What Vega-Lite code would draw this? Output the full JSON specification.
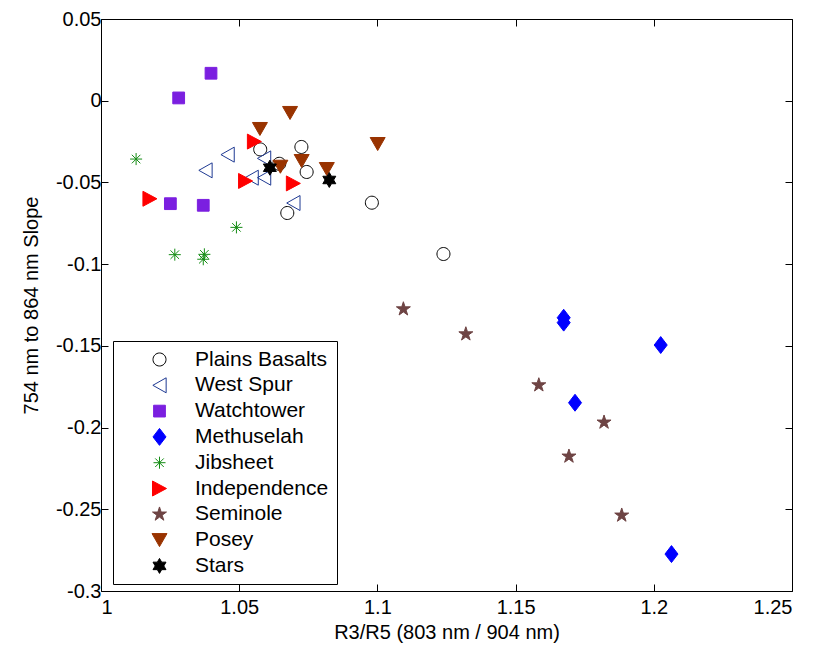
{
  "$schema": "https://vega.github.io/schema/vega-lite/v6.json",
  "width": 691,
  "height": 572,
  "autosize": {"type": "none"},
  "padding": {"left": 101, "top": 19, "right": 22, "bottom": 54},
  "background": "white",
  "config": {"view": {"stroke": null}, "font": "Liberation Sans"},
  "data": {"values": [
    {"Group": "Plains Basalts", "x": 1.0576, "y": -0.0298},
    {"Group": "Plains Basalts", "x": 1.0725, "y": -0.0283},
    {"Group": "Plains Basalts", "x": 1.0645, "y": -0.0386},
    {"Group": "Plains Basalts", "x": 1.0744, "y": -0.0436},
    {"Group": "Plains Basalts", "x": 1.0674, "y": -0.0687},
    {"Group": "Plains Basalts", "x": 1.0980, "y": -0.0624},
    {"Group": "Plains Basalts", "x": 1.1239, "y": -0.0938},
    {"Group": "West Spur", "x": 1.0458, "y": -0.0330},
    {"Group": "West Spur", "x": 1.0378, "y": -0.0426},
    {"Group": "West Spur", "x": 1.0590, "y": -0.0353},
    {"Group": "West Spur", "x": 1.0545, "y": -0.0471},
    {"Group": "West Spur", "x": 1.0590, "y": -0.0471},
    {"Group": "West Spur", "x": 1.0696, "y": -0.0626},
    {"Group": "Watchtower", "x": 1.0398, "y": 0.0168},
    {"Group": "Watchtower", "x": 1.0281, "y": 0.0017},
    {"Group": "Watchtower", "x": 1.0251, "y": -0.0630},
    {"Group": "Watchtower", "x": 1.0370, "y": -0.0640},
    {"Group": "Methuselah", "x": 1.1674, "y": -0.1328},
    {"Group": "Methuselah", "x": 1.1674, "y": -0.1358},
    {"Group": "Methuselah", "x": 1.2025, "y": -0.1495},
    {"Group": "Methuselah", "x": 1.1715, "y": -0.1848},
    {"Group": "Methuselah", "x": 1.2064, "y": -0.2774},
    {"Group": "Jibsheet", "x": 1.0127, "y": -0.0357},
    {"Group": "Jibsheet", "x": 1.0490, "y": -0.0775},
    {"Group": "Jibsheet", "x": 1.0267, "y": -0.0942},
    {"Group": "Jibsheet", "x": 1.0374, "y": -0.0940},
    {"Group": "Jibsheet", "x": 1.0370, "y": -0.0970},
    {"Group": "Independence", "x": 1.0177, "y": -0.0600},
    {"Group": "Independence", "x": 1.0555, "y": -0.0250},
    {"Group": "Independence", "x": 1.0523, "y": -0.0491},
    {"Group": "Independence", "x": 1.0696, "y": -0.0506},
    {"Group": "Seminole", "x": 1.1094, "y": -0.1275},
    {"Group": "Seminole", "x": 1.1320, "y": -0.1428},
    {"Group": "Seminole", "x": 1.1584, "y": -0.1740},
    {"Group": "Seminole", "x": 1.1820, "y": -0.1968},
    {"Group": "Seminole", "x": 1.1693, "y": -0.2176},
    {"Group": "Seminole", "x": 1.1884, "y": -0.2537},
    {"Group": "Posey", "x": 1.0684, "y": -0.0075},
    {"Group": "Posey", "x": 1.0575, "y": -0.0173},
    {"Group": "Posey", "x": 1.0726, "y": -0.0369},
    {"Group": "Posey", "x": 1.0649, "y": -0.0404},
    {"Group": "Posey", "x": 1.0817, "y": -0.0418},
    {"Group": "Posey", "x": 1.1001, "y": -0.0265},
    {"Group": "Stars", "x": 1.0611, "y": -0.0410},
    {"Group": "Stars", "x": 1.0826, "y": -0.0485}
  ]},
  "layer": [
    {
      "mark": {"type": "point", "filled": false, "opacity": 1, "strokeWidth": 1, "size": 196},
      "encoding": {
        "x": {
          "field": "x", "type": "quantitative",
          "scale": {"domain": [1, 1.25], "nice": false, "zero": false},
          "axis": {
            "orient": "bottom", "values": [1, 1.05, 1.1, 1.15, 1.2, 1.25],
            "labelExpr": "toString(datum.value)", "grid": false,
            "tickSize": -7, "tickColor": "black", "domainColor": "black", "domainWidth": 1,
            "labelPadding": 13, "labelFontSize": 20, "labelColor": "black", "labelFont": "Liberation Sans",
            "title": "R3/R5 (803 nm / 904 nm)", "titleFontSize": 20, "titleFontWeight": "normal",
            "titleColor": "black", "titleFont": "Liberation Sans", "titlePadding": 5
          }
        },
        "y": {
          "field": "y", "type": "quantitative",
          "scale": {"domain": [-0.3, 0.05], "nice": false, "zero": false},
          "axis": {
            "orient": "left", "values": [-0.3, -0.25, -0.2, -0.15, -0.1, -0.05, 0, 0.05],
            "labelExpr": "toString(datum.value)", "grid": false,
            "tickSize": -7, "tickColor": "black", "domainColor": "black", "domainWidth": 1,
            "labelPadding": 7, "labelFontSize": 20, "labelColor": "black", "labelFont": "Liberation Sans",
            "title": "754 nm to 864 nm Slope", "titleFontSize": 20, "titleFontWeight": "normal",
            "titleColor": "black", "titleFont": "Liberation Sans", "titlePadding": 14
          }
        },
        "shape": {
          "field": "Group", "type": "nominal",
          "scale": {
            "domain": ["Plains Basalts", "West Spur", "Watchtower", "Methuselah", "Jibsheet", "Independence", "Seminole", "Posey", "Stars"],
            "range": [
              "M-0.93,0A0.93,0.93 0 1,0 0.93,0A0.93,0.93 0 1,0 -0.93,0Z",
              "M0.95,-1.07L-0.95,0L0.95,1.07Z",
              "M-0.84,-0.84L0.84,-0.84L0.84,0.84L-0.84,0.84Z",
              "M0,-1.21L0.93,0L0,1.21L-0.93,0Z",
              "M-0.86,0L0.86,0M0,-0.86L0,0.86M-0.61,-0.61L0.61,0.61M-0.61,0.61L0.61,-0.61",
              "M-1,-1.07L1,0L-1,1.07Z",
              "M0,-1.05L0.236,-0.324L0.999,-0.324L0.381,0.124L0.617,0.849L0,0.401L-0.617,0.849L-0.381,0.124L-0.999,-0.324L-0.236,-0.324Z",
              "M-1.07,-0.93L1.07,-0.93L0,0.93Z",
              "M0,-1.07L0.309,-0.535L0.927,-0.535L0.617,0L0.927,0.535L0.309,0.535L0,1.07L-0.309,0.535L-0.927,0.535L-0.617,0L-0.927,-0.535L-0.309,-0.535Z"
            ]
          },
          "legend": {
            "orient": "none", "legendX": 12, "legendY": 322, "title": null,
            "strokeColor": "black", "fillColor": "white", "padding": 8,
            "symbolOffset": 28, "labelOffset": 25, "rowPadding": 3.8,
            "symbolSize": 196, "symbolStrokeWidth": 1,
            "labelFontSize": 21, "labelFont": "Liberation Sans", "labelColor": "black", "labelLimit": 300
          }
        },
        "fill": {
          "field": "Group", "type": "nominal",
          "scale": {
            "domain": ["Plains Basalts", "West Spur", "Watchtower", "Methuselah", "Jibsheet", "Independence", "Seminole", "Posey", "Stars"],
            "range": ["transparent", "transparent", "#7b1fe0", "#0000ff", "transparent", "#ff0000", "#6e4444", "#993300", "#000000"]
          }
        },
        "stroke": {
          "field": "Group", "type": "nominal",
          "scale": {
            "domain": ["Plains Basalts", "West Spur", "Watchtower", "Methuselah", "Jibsheet", "Independence", "Seminole", "Posey", "Stars"],
            "range": ["#000000", "#1f3a93", "#7b1fe0", "#0000ff", "#148c14", "#ff0000", "#6e4444", "#993300", "#000000"]
          }
        }
      }
    },
    {
      "mark": {"type": "point", "opacity": 0},
      "encoding": {
        "x": {
          "field": "x", "type": "quantitative",
          "axis": {"orient": "top", "values": [1, 1.05, 1.1, 1.15, 1.2, 1.25], "labels": false, "title": null, "grid": false,
                   "tickSize": -7, "tickColor": "black", "domainColor": "black", "domainWidth": 1}
        },
        "y": {
          "field": "y", "type": "quantitative",
          "axis": {"orient": "right", "values": [-0.3, -0.25, -0.2, -0.15, -0.1, -0.05, 0, 0.05], "labels": false, "title": null, "grid": false,
                   "tickSize": -7, "tickColor": "black", "domainColor": "black", "domainWidth": 1}
        }
      }
    }
  ],
  "resolve": {"axis": {"x": "independent", "y": "independent"}}
}
